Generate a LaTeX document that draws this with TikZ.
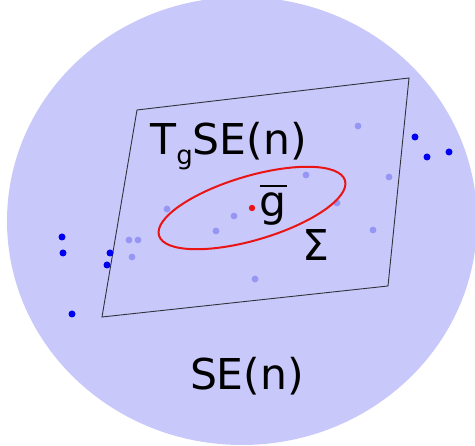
\documentclass[tikz,border=0pt]{standalone}
\usepackage{fontspec}
\setmainfont{DejaVu Sans}
\definecolor{bgfill}{RGB}{200,200,250}
\definecolor{lightdot}{RGB}{150,150,245}
\definecolor{darkdot}{RGB}{0,0,240}
\definecolor{frame}{RGB}{50,50,60}
\definecolor{ellred}{RGB}{235,20,20}
\tikzset{
  lbl/.style={inner sep=0pt, outer sep=0pt, anchor=base west, text=black,
    font=\fontsize{42.5}{50}\selectfont},
  ldot/.style={fill=lightdot},
  ddot/.style={fill=darkdot},
  planeframe/.style={draw=frame, line width=0.9pt, line join=miter},
  covell/.style={draw=ellred, line width=2pt}
}
\begin{document}
\begin{tikzpicture}[x=1pt,y=-1pt]
\useasboundingbox (0,0) rectangle (475,446);
% manifold
\fill[bgfill] (242,221) ellipse [x radius=235, y radius=224];
% tangent plane
\draw[planeframe] (137,110) -- (409,78) -- (388,286) -- (102,317) -- cycle;
% light (projected) dots
\foreach \p in {(358,126),(306,175),(389,177),(167,209),(234,216),(337,203),
                (216,231),(373,230),(129,240),(138,240),(132,257),(255,279)}
  \fill[ldot] \p circle [radius=3.4];
% dark dots
\foreach \p in {(415,137),(427,157),(449,152),(62,237),(63,253),(110,253),
                (107,265),(72,314)}
  \fill[ddot] \p circle [radius=3.5];
% covariance ellipse
\draw[covell, shift={(252,208)}, rotate=16.5] (0,0) ellipse [x radius=97, y radius=32];
% mean
\fill[ellred] (252,208) circle [radius=3.2];
% labels
\node[lbl] (tg) at (150.5,155) {T\raisebox{-10pt}{\fontsize{26}{30}\selectfont g}SE(n)};
\node[lbl] (gbar) at (259.5,217) {\rlap{\rule[30pt]{27pt}{2pt}}g};
\node[lbl] (sig) at (302,261) {Σ};
\node[lbl] (se) at (190,390) {SE(n)};
\end{tikzpicture}
\end{document}
